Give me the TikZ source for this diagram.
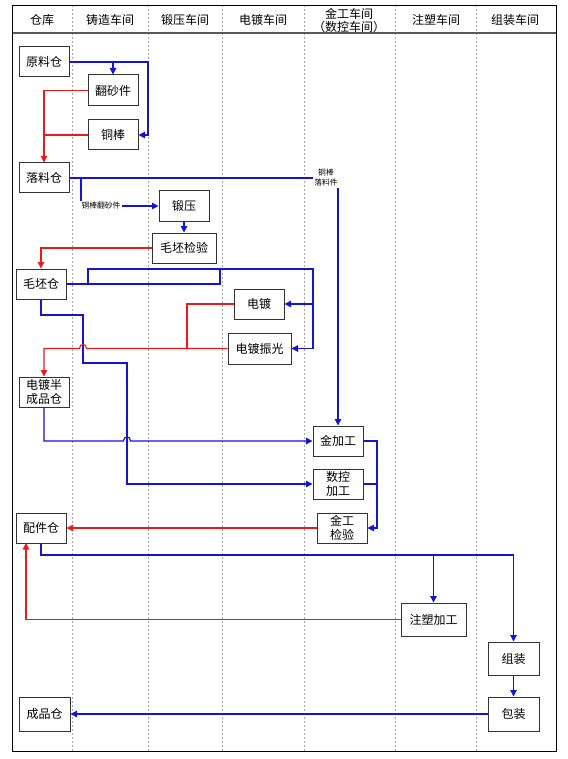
\documentclass[tikz,border=0pt]{standalone}
\usepackage{fontspec}
\setmainfont{Noto Sans CJK SC}
\usetikzlibrary{arrows.meta}
\definecolor{fblue}{RGB}{20,20,215}
\definecolor{fred}{RGB}{240,25,25}
\tikzset{
  box/.style={draw=black!80, line width=1pt, fill=white, minimum width=50pt, minimum height=30pt, inner sep=1pt, align=center, font=\fontsize{12}{14}\selectfont},
  bl/.style={draw=fblue, line width=1.2pt},
  rd/.style={draw=fred, line width=1.1pt},
  arr/.style={-{Triangle[length=6.5pt,width=6.5pt]}},
  col/.style={draw=gray!70, dash pattern=on 2pt off 2pt, line width=0.5pt},
  hdr/.style={font=\fontsize{12}{13}\selectfont, align=center, inner sep=0pt},
  sm/.style={font=\fontsize{7.8}{10}\selectfont, inner sep=1pt, align=center, fill=white}
}
\begin{document}
\begin{tikzpicture}[x=1pt,y=-1pt]
\useasboundingbox (0,0) rectangle (567,759);
% columns
\foreach \cx in {72,148,222,304,395,476} \draw[col] (\cx,5) -- (\cx,751);
\draw[line width=1.2pt, black!65] (12,33) -- (556,33);
\draw[line width=0.9pt] (12,5) rectangle (556,751);
% header
\node[hdr] (h1) at (42,20) {仓库};
\node[hdr] (h2) at (110,20) {铸造车间};
\node[hdr] (h3) at (185,20) {锻压车间};
\node[hdr] (h4) at (263,20) {电镀车间};
\node[hdr] (h5) at (349,20) {金工车间\\（数控车间）};
\node[hdr] (h6) at (436,20) {注塑车间};
\node[hdr] (h7) at (515,20) {组装车间};
% boxes
\node[box] (yl) at (44,62) {原料仓};
\node[box, minimum height=31pt] (fs) at (113,90.5) {翻砂件};
\node[box] (tb) at (113,135) {铜棒};
\node[box] (ll) at (44,178) {落料仓};
\node[box] (dy) at (184,206) {锻压};
\node[box, minimum width=64pt] (mpjy) at (184,248) {毛坯检验};
\node[box] (mpc) at (41,284) {毛坯仓};
\node[box] (dd) at (259,304) {电镀};
\node[box, minimum width=63pt, minimum height=31pt] (ddzg) at (259.5,348.5) {电镀振光};
\node[box] (ddbc) at (44,392) {电镀半\\成品仓};
\node[box] (jjg) at (338,441) {金加工};
\node[box] (skjg) at (338,484) {数控\\加工};
\node[box] (jgjy) at (342,528) {金工\\检验};
\node[box] (pjc) at (41,528) {配件仓};
\node[box, minimum width=65pt, minimum height=33pt] (zsjg) at (433.5,619.5) {注塑加工};
\node[box, minimum width=51pt, minimum height=33pt] (zz) at (513.5,658.5) {组装};
\node[box, minimum width=51pt, minimum height=34pt] (bz) at (513.5,714) {包装};
\node[box, minimum width=51pt, minimum height=34pt] (cpc) at (44.5,714) {成品仓};
% labels
\node[sm] (lbl1) at (101,206) {铜棒翻砂件};
\node[sm, fill=none] (lbl2) at (326,178) {铜棒\\落料件};
% connectors
\draw[bl,arr] (yl.east) -- (148,62) -- (148,135) -- (tb.east);
\draw[bl,arr] (113,62) -- (fs.north);
\draw[rd,arr] (fs.west) -- (44,90.5) -- (ll.north);
\draw[rd] (tb.west) -- (44,135);
\draw[bl] (ll.east) -- (lbl2.west);
\draw[bl,arr] (jjg.north |- lbl2.south) -- (jjg.north);
\draw[bl] (81,178) -- (81,201);
\draw[bl,arr] (lbl1.east) -- (dy.west);
\draw[bl,arr] (dy.south) -- (mpjy.north);
\draw[rd,arr] (mpjy.west) -- (41,248) -- (mpc.north);
\draw[bl] (mpc.east) -- (220,284) -- (220,269);
\draw[bl,arr] (88,284) -- (88,269) -- (313,269) -- (313,348.5) -- (ddzg.east);
\draw[bl,arr] (313,304) -- (dd.east);
\draw[rd] (dd.west) -- (187,304) -- (187,348.5);
\draw[bl,arr] (mpc.south) -- (41,315) -- (83,315) -- (83,363) -- (127,363) -- (127,484) -- (skjg.west);
\draw[rd,arr] (ddzg.west) -- (86.5,348.5) .. controls (86.5,343) and (79.5,343) .. (79.5,348.5) -- (44,348.5) -- (ddbc.north);
\draw[bl,arr] (ddbc.south) -- (44,441) -- (123.5,441) .. controls (123.5,435.5) and (130.5,435.5) .. (130.5,441) -- (jjg.west);
\draw[bl,arr] (jjg.east) -- (377,441) -- (377,528) -- (jgjy.east);
\draw[bl] (skjg.east) -- (377,484);
\draw[rd,arr] (jgjy.west) -- (pjc.east);
\draw[bl,arr] (pjc.south) -- (41,555) -- (513.5,555) -- (zz.north);
\draw[bl,arr] (433.5,555) -- (zsjg.north);
\draw[rd,arr] (zsjg.west) -- (26,619.5) -- (26,543);
\draw[bl,arr] (zz.south) -- (bz.north);
\draw[bl,arr] (bz.west) -- (cpc.east);
\end{tikzpicture}
\end{document}
